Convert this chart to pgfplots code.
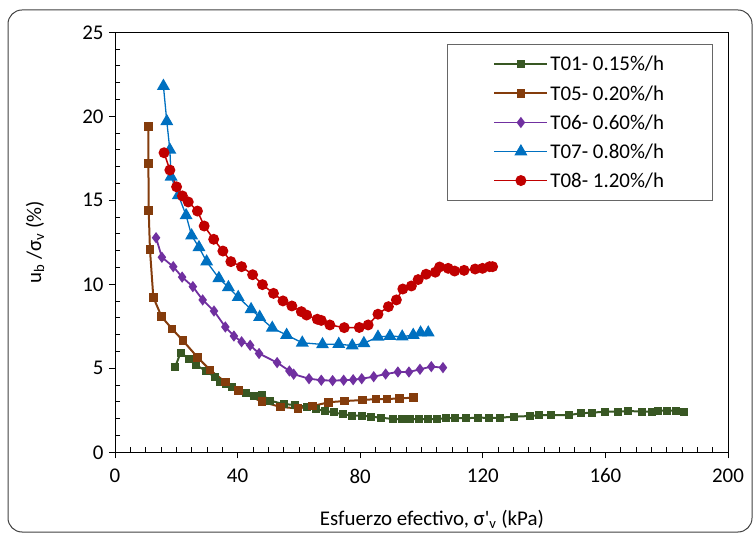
\documentclass[border=0pt]{standalone}
\usepackage{fontspec}
\setmainfont{Carlito}
\usepackage{pgfplots}
\pgfplotsset{compat=1.18}
\definecolor{cA}{RGB}{56,87,35}
\definecolor{cB}{RGB}{132,60,12}
\definecolor{cC}{RGB}{112,48,160}
\definecolor{cD}{RGB}{0,112,192}
\definecolor{cE}{RGB}{192,0,0}
\begin{document}
\begin{tikzpicture}[x=1bp,y=1bp]
\draw[line width=1bp, black!75, rounded corners=14bp] (8bp,1bp) rectangle (752bp,523bp);
\begin{axis}[
  at={(115bp,80.7bp)}, anchor=origin,
  scale only axis, width=613bp, height=420bp,
  xmin=0, xmax=200, ymin=0, ymax=25,
  xtick={0,40,...,200}, ytick={0,5,...,25},
  minor x tick num=7, minor y tick num=4,
  tick align=outside, major tick length=6bp, minor tick length=-5bp,
  xtick pos=bottom, ytick pos=left,
  axis line style={black, line width=1bp},
  every tick/.style={black, line width=0.8bp},
  /pgf/number format/assume math mode=true,
  tick label style={font=\fontsize{21}{25}\selectfont},
  xticklabel style={yshift=-7bp},
  yticklabel style={xshift=-2bp},
  label style={font=\fontsize{21}{25}\selectfont},
  xlabel={Esfuerzo efectivo, σ\textquotesingle\textsubscript{v} (kPa)},
  ylabel={u\textsubscript{b} /σ\textsubscript{v} (\%)},
  xlabel style={at={(axis description cs:0.517,-0.159)}, anchor=center},
  ylabel style={at={(axis description cs:-0.1305,0.5)}, anchor=center},
  legend cell align=left,
  legend style={at={(axis description cs:0.5416,0.972)}, anchor=north west,
    draw=black!60, line width=0.8bp, fill=white,
    font=\fontsize{21}{25}\selectfont,
    inner xsep=46bp, inner ysep=10bp, row sep=9bp,
    nodes={inner xsep=2bp, inner ysep=2bp}},
  legend image code/.code={\draw[mark repeat=2,mark phase=2] plot coordinates {(0bp,0bp) (26.5bp,0bp) (53bp,0bp)};},
]
\addplot[cA, line width=2bp, mark=square*, mark size=3bp, mark options={solid, fill=cA, draw=cA}] coordinates {
(19.7,5.1)(21.4,5.94)(24.2,5.54)(26.3,5.2)(29.6,4.86)(32.5,4.48)(34.3,4.2)(36.1,4.07)(38.1,3.9)(40.5,3.67)(42.9,3.51)(45.3,3.38)(48.1,3.39)(50.7,3.07)(55.0,2.87)(58.7,2.82)(62.5,2.71)(65.6,2.56)(68.5,2.47)(71.3,2.37)(74.4,2.27)(77.3,2.18)(80.7,2.18)(83.4,2.12)(86.8,2.06)(90.8,1.98)(93.5,1.98)(96.2,1.98)(99.2,1.96)(102.0,1.98)(104.9,1.98)(107.9,2.02)(111.0,2.04)(114.4,2.02)(118.5,2.07)(122.1,2.04)(125.5,2.06)(130.2,2.12)(135.4,2.16)(138.4,2.2)(142.3,2.22)(148.2,2.22)(151.9,2.32)(155.7,2.36)(159.9,2.42)(164.2,2.42)(167.5,2.46)(171.8,2.42)(175.1,2.42)(177.3,2.48)(180.2,2.48)(183.0,2.48)(185.6,2.38)
};
\addlegendentry{T01- 0.15\%/h}
\addplot[cB, line width=2bp, mark=square*, mark size=3.3bp, mark options={solid, fill=cB, draw=cB}] coordinates {
(10.9,19.38)(10.9,17.18)(11.0,14.38)(11.4,12.08)(12.5,9.23)(15.2,8.07)(18.6,7.35)(22.2,6.64)(26.9,5.66)(31.0,4.9)(36.0,4.18)(40.3,3.67)(47.9,3.01)(54.0,2.7)(59.7,2.61)(64.5,2.75)(69.7,2.98)(74.8,3.05)(80.7,3.11)(85.2,3.17)(88.8,3.17)(92.9,3.21)(97.3,3.25)
};
\addlegendentry{T05- 0.20\%/h}
\addplot[cC, line width=1.8bp, mark=diamond*, mark size=4.2bp, mark options={solid, fill=cC, draw=cC}] coordinates {
(13.4,12.77)(15.3,11.61)(19.0,11.05)(21.9,10.43)(25.4,9.86)(28.6,9.07)(32.3,8.41)(36.0,7.46)(38.8,6.92)(41.3,6.58)(44.1,6.37)(47.0,5.88)(52.9,5.34)(56.9,4.84)(58.3,4.65)(63.3,4.38)(67.3,4.29)(71.0,4.27)(74.6,4.29)(77.7,4.32)(80.5,4.38)(84.4,4.5)(88.3,4.66)(92.3,4.78)(95.9,4.78)(99.5,4.94)(103.2,5.1)(107.0,5.04)
};
\addlegendentry{T06- 0.60\%/h}
\addplot[cD, line width=1.3bp, mark=triangle*, mark size=6.2bp, mark options={solid, fill=cD, draw=cD}] coordinates {
(15.8,21.8)(16.9,19.7)(17.9,18.0)(18.3,16.4)(20.7,15.3)(23.2,14.1)(25.0,12.9)(27.4,12.2)(29.9,11.35)(33.9,10.36)(37.0,9.82)(40.2,9.23)(44.4,8.51)(47.2,8.05)(51.3,7.4)(56.0,6.98)(61.1,6.52)(67.7,6.42)(73.0,6.44)(77.4,6.35)(81.2,6.49)(85.8,6.87)(89.7,6.92)(93.7,6.88)(97.3,6.98)(99.7,7.12)(102.2,7.12)
};
\addlegendentry{T07- 0.80\%/h}
\addplot[cE, line width=1.5bp, mark=*, mark size=4.7bp, mark options={solid, fill=cE, draw=cE}] coordinates {
(16.0,17.83)(17.9,16.8)(20.1,15.8)(22.0,15.26)(23.9,14.9)(26.9,14.36)(29.1,13.47)(32.2,12.68)(35.2,11.98)(37.8,11.35)(41.3,11.05)(44.9,10.57)(48.1,9.98)(51.7,9.46)(54.8,9.01)(57.7,8.71)(60.8,8.37)(62.5,8.17)(66.0,7.92)(67.3,7.85)(70.1,7.58)(74.8,7.42)(79.7,7.43)(82.6,7.58)(85.8,8.22)(89.2,8.67)(91.8,9.07)(93.9,9.72)(96.7,9.9)(98.9,10.28)(101.5,10.6)(104.5,10.72)(105.9,11.03)(108.7,10.95)(110.8,10.79)(113.9,10.83)(117.5,10.91)(119.9,10.95)(122.2,11.05)(123.2,11.05)
};
\addlegendentry{T08- 1.20\%/h}
\end{axis}
\pgfresetboundingbox
\useasboundingbox (0,0) rectangle (755bp,533bp);
\end{tikzpicture}
\end{document}
